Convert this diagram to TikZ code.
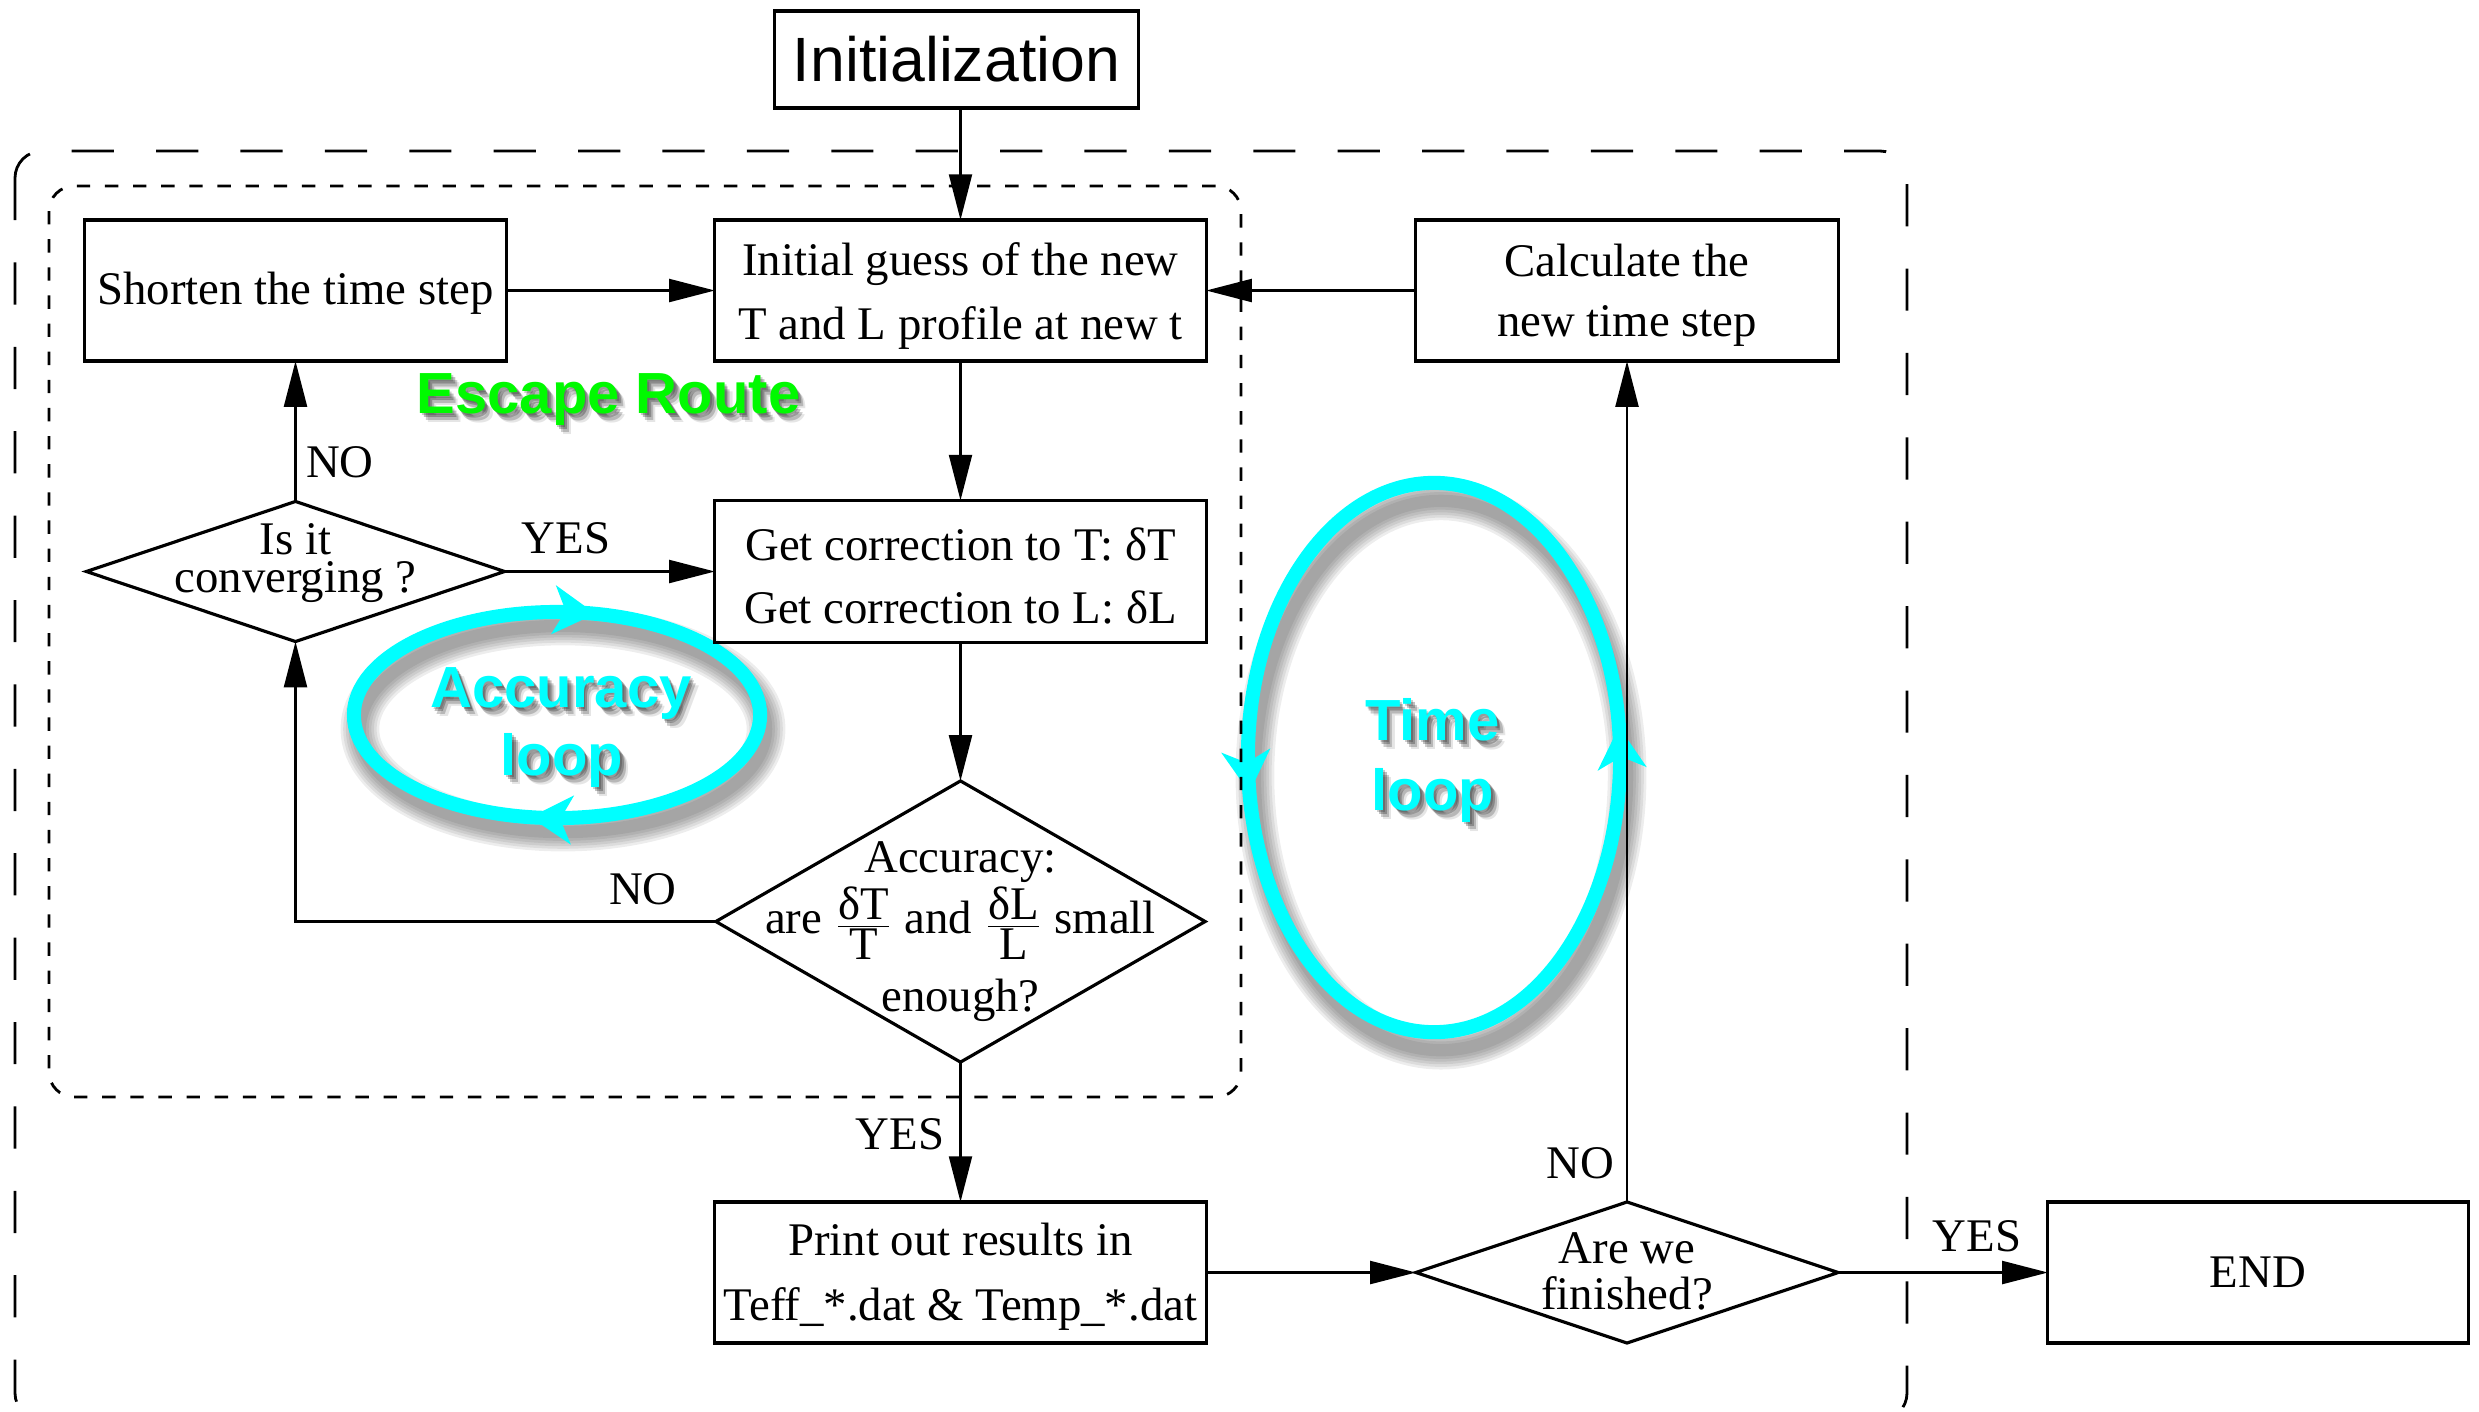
\documentclass[tikz,border=0pt]{standalone}
\usepackage{fontspec}
\setmainfont{Liberation Serif}
\newfontfamily\hsans{Liberation Sans}
\usetikzlibrary{arrows.meta,shapes.geometric,decorations.markings}
\definecolor{loopcyan}{RGB}{0,255,255}
\definecolor{escgreen}{RGB}{0,250,0}
\newcommand\tfont{\fontsize{13.3}{18.2}\selectfont}
\newcommand\dfr[2]{\raisebox{-1.5pt}{$\frac{\mbox{#1}}{\mbox{#2}}$}}
\newcommand\shtext[5]{%
  \foreach \dx/\dy/\o [count=\i] in {0.5/-0.6/0.2, 1/-1.3/0.25, 1.6/-2/0.2, 2.2/-2.6/0.1}{%
    \node[hl, anchor=base, text=black, opacity=\o, xshift=\dx pt, yshift=\dy pt] (#1sh\i) at (#2,#3) {#5};}
  \node[hl, anchor=base, text=#4] (#1) at (#2,#3) {#5};}
\newcommand\loopshadow[3]{%
  \foreach \w in {11pt, 9.5pt, 8pt, 6.5pt, 5pt, 3.5pt}{%
    \draw[line width=\w, black, opacity=0.07] (#1) ellipse [x radius=#2, y radius=#3];}}
\begin{document}
\begin{tikzpicture}[x=0.01cm,y=-0.01cm,
  box/.style={draw, line width=0.9pt, inner sep=0pt, outer sep=0pt},
  btext/.style={inner sep=0pt, align=center, font=\tfont},
  dia/.style={draw, diamond, line width=0.9pt, inner sep=0pt, outer sep=0pt},
  conn/.style={line width=0.75pt, -{Triangle[length=13pt,width=6.5pt]}},
  lbl/.style={inner sep=0pt, font=\tfont},
  hl/.style={inner sep=0pt, font=\hsans\bfseries\fontsize{16.5}{19}\selectfont},
  loopline/.style={line width=4pt, color=loopcyan},
  outerframe/.style={line width=0.8pt, dash pattern=on 12pt off 12pt, rounded corners=0.27cm},
  innerframe/.style={line width=0.8pt, dash pattern=on 3.8pt off 4.2pt, rounded corners=0.25cm}
]
\useasboundingbox (0,0) rectangle (2479,1411);

% loops with shadows
\loopshadow{563,729}{2.03cm}{1.03cm}
\draw[loopline, postaction={decorate}, decoration={markings,
   mark=at position 0.211 with {\arrowreversed{Stealth[length=12pt,width=14pt,inset=3.5pt,line width=0.4pt]}},
   mark=at position 0.723 with {\arrowreversed{Stealth[length=12pt,width=14pt,inset=3.5pt,line width=0.4pt]}}}]
   (557,715) ellipse [x radius=2.03cm, y radius=1.03cm];
\loopshadow{1441,775.5}{1.86cm}{2.745cm}
\draw[loopline, postaction={decorate}, decoration={markings,
   mark=at position 0.021 with {\arrow{Stealth[length=12pt,width=14pt,inset=3.5pt,line width=0.4pt]}},
   mark=at position 0.524 with {\arrow{Stealth[length=12pt,width=14pt,inset=3.5pt,line width=0.4pt]}}}]
   (1434,757.5) ellipse [x radius=1.86cm, y radius=2.745cm];

% dashed frames
\draw[outerframe] (15,151) rectangle (1907,1420);
\draw[innerframe] (49,186) rectangle (1241,1097);

% boxes
\node[box, font=\hsans\fontsize{17.8}{20}\selectfont, minimum width=3.63cm, minimum height=0.97cm] (init) at (956.5,59.5) {Initialization};
\node[box, minimum width=4.21cm, minimum height=1.41cm] (shorten) at (295.5,290.5) {};
\node[btext] (shortenT) at ([yshift=-0.8pt]shorten.center) {Shorten the time step};
\node[box, minimum width=4.91cm, minimum height=1.41cm] (guess) at (960.5,290.5) {};
\node[btext] (guessT) at ([yshift=-1.5pt]guess.center) {Initial guess of the new\\T and L profile at new t};
\node[box, minimum width=4.22cm, minimum height=1.41cm] (calc) at (1627,290.5) {};
\node[btext, font=\fontsize{13.3}{16.9}\selectfont] (calcT) at ([yshift=-1.3pt]calc.center) {Calculate the\\new time step};
\node[box, minimum width=4.91cm, minimum height=1.42cm] (corr) at (960.5,571.5) {};
\node[btext, font=\fontsize{13.3}{17.8}\selectfont] (corrT) at ([yshift=-1.3pt]corr.center) {Get correction to T: δT\\Get correction to L: δL};
\node[box, minimum width=4.91cm, minimum height=1.41cm] (print) at (960.5,1272.5) {};
\node[btext, font=\fontsize{13.3}{18.4}\selectfont] (printT) at ([yshift=-1.3pt]print.center) {Print out results in\\Teff\_*.dat \& Temp\_*.dat};
\node[box, font=\tfont, minimum width=4.20cm, minimum height=1.41cm] (end) at (2258,1272.5) {END};

% diamonds
\node[dia, minimum width=4.18cm, minimum height=1.40cm] (conv) at (295.5,571.5) {};
\node[btext, font=\fontsize{13.3}{10.8}\selectfont] (convT) at (295.5,563) {Is it\\converging ?};
\node[dia, minimum width=4.89cm, minimum height=2.81cm] (acc) at (960.5,921.5) {};
\node[btext, font=\fontsize{13.3}{15.6}\selectfont] (accT) at (960.5,932) {Accuracy:\\are \dfr{δT}{T} and \dfr{δL}{L} small\\[4.8pt]enough?};
\node[dia, minimum width=4.22cm, minimum height=1.41cm] (fin) at (1627,1272.5) {};
\node[btext, font=\fontsize{13.3}{13.1}\selectfont] (finT) at (1627,1271) {Are we\\finished?};

% connectors
\draw[conn] (init.south -| guess.north) -- (guess.north);
\draw[conn] (shorten.east) -- (guess.west);
\draw[conn] (calc.west) -- (guess.east);
\draw[conn] (guess.south) -- (corr.north);
\draw[conn] (conv.east) -- (corr.west);
\draw[conn] (conv.north) -- (shorten.south);
\draw[conn] (corr.south) -- (acc.north);
\draw[conn] (acc.west) -| (conv.south);
\draw[conn] (acc.south) -- (print.north);
\draw[conn] (print.east) -- (fin.west);
\draw[conn] (fin.north) -- (calc.south);
\draw[conn] (fin.east) -- (end.west);

% labels
\node[lbl] (noA) at (340,462) {NO};
\node[lbl] (yesA) at (566,538) {YES};
\node[lbl] (noB) at (643,889) {NO};
\node[lbl] (yesB) at (900,1134) {YES};
\node[lbl] (noC) at (1580,1163) {NO};
\node[lbl] (yesC) at (1977,1236) {YES};

% coloured titles
\shtext{escape}{608.5}{413}{escgreen}{Escape Route}
\shtext{accA}{561}{707}{loopcyan}{Accuracy}
\shtext{accB}{562}{775}{loopcyan}{loop}
\shtext{timeA}{1432.5}{740}{loopcyan}{Time}
\shtext{timeB}{1433}{810}{loopcyan}{loop}
\end{tikzpicture}
\end{document}
